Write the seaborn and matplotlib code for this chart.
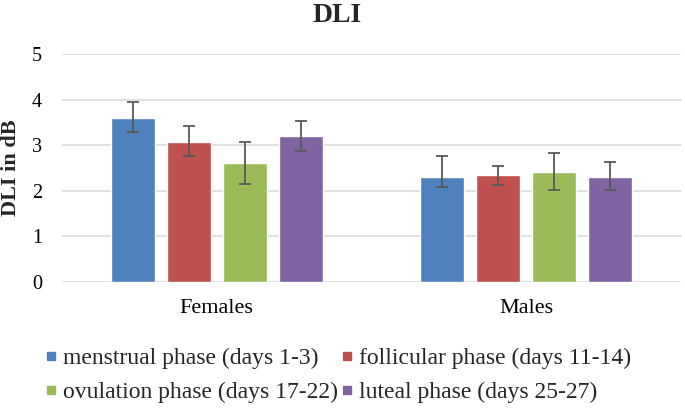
import matplotlib
matplotlib.use("Agg")
import matplotlib.pyplot as plt
from matplotlib.lines import Line2D
import seaborn as sns
import pandas as pd
import numpy as np

# ---- data ----
groups = ["Females", "Males"]
phases = ["menstrual phase (days 1-3)", "follicular phase (days 11-14)",
          "ovulation phase (days 17-22)", "luteal phase (days 25-27)"]
menstrual = [3.60, 2.31]
follicular = [3.08, 2.34]
ovulation = [2.61, 2.42]
luteal = [3.21, 2.31]
err_low = {
    phases[0]: [0.31, 0.22],
    phases[1]: [0.31, 0.22],
    phases[2]: [0.46, 0.41],
    phases[3]: [0.33, 0.30],
}
err_high = {
    phases[0]: [0.34, 0.46],
    phases[1]: [0.34, 0.21],
    phases[2]: [0.47, 0.40],
    phases[3]: [0.33, 0.32],
}
colors = ["#4F81BD", "#C0504D", "#9BBB59", "#8064A2"]
yticks = [0, 1, 2, 3, 4, 5]

values = [menstrual, follicular, ovulation, luteal]
df = pd.DataFrame({
    "group": [g for p in phases for g in groups],
    "phase": [p for p in phases for g in groups],
    "value": [v for vals in values for v in vals],
})

sns.set_theme(style="white")
plt.rcParams["font.family"] = ["Liberation Serif", "DejaVu Serif"]

fig = plt.figure(figsize=(6.85, 4.08), dpi=100)
ax = fig.add_axes([62/685, 1-282/408, 619/685, 228/408])

sns.barplot(data=df, x="group", y="value", hue="phase", order=groups,
            hue_order=phases, palette=colors, width=0.724, gap=0.214,
            errorbar=None, ax=ax, saturation=1, legend=False, zorder=3)

for cont, p in zip(ax.containers, phases):
    xs = [b.get_x() + b.get_width()/2 for b in cont]
    ys = [b.get_height() for b in cont]
    ax.errorbar(xs, ys, yerr=[err_low[p], err_high[p]], fmt="none",
                ecolor="#595959", elinewidth=1.3, capsize=4.5, capthick=1.3,
                zorder=4)

ax.set_ylim(0, 5)
ax.set_yticks(yticks)
ax.set_xlim(-0.5, 1.5)
ax.grid(axis="y", color="#D9D9D9", linewidth=1.1, zorder=0)
ax.set_axisbelow(True)
for s in ax.spines.values():
    s.set_visible(False)
ax.tick_params(axis="both", length=0, colors="black")
ax.tick_params(axis="y", pad=14.5, labelsize=14.5)
ax.tick_params(axis="x", pad=12, labelsize=16)
ax.set_xlabel("")
ax.set_ylabel("")

fig.text(337/685, 1-22/408, "DLI", ha="center", va="baseline",
         fontsize=20, fontweight="bold")
fig.text(11/685, 1-168/408, "DLI in dB", ha="center", va="center",
         rotation=90, fontsize=16, fontweight="bold")

handles = [Line2D([], [], marker="s", linestyle="", color=c, markersize=5.8)
           for c in colors]
order = [0, 2, 1, 3]
fig.legend([handles[i] for i in order], [phases[i] for i in order],
           loc="lower left", bbox_to_anchor=(45/685, 0.012), ncol=2,
           frameon=False, fontsize=17, handlelength=0.5, handletextpad=0.26,
           columnspacing=0.15, labelspacing=0.54, borderpad=0,
           borderaxespad=0)

fig.savefig("out.png", dpi=100)
